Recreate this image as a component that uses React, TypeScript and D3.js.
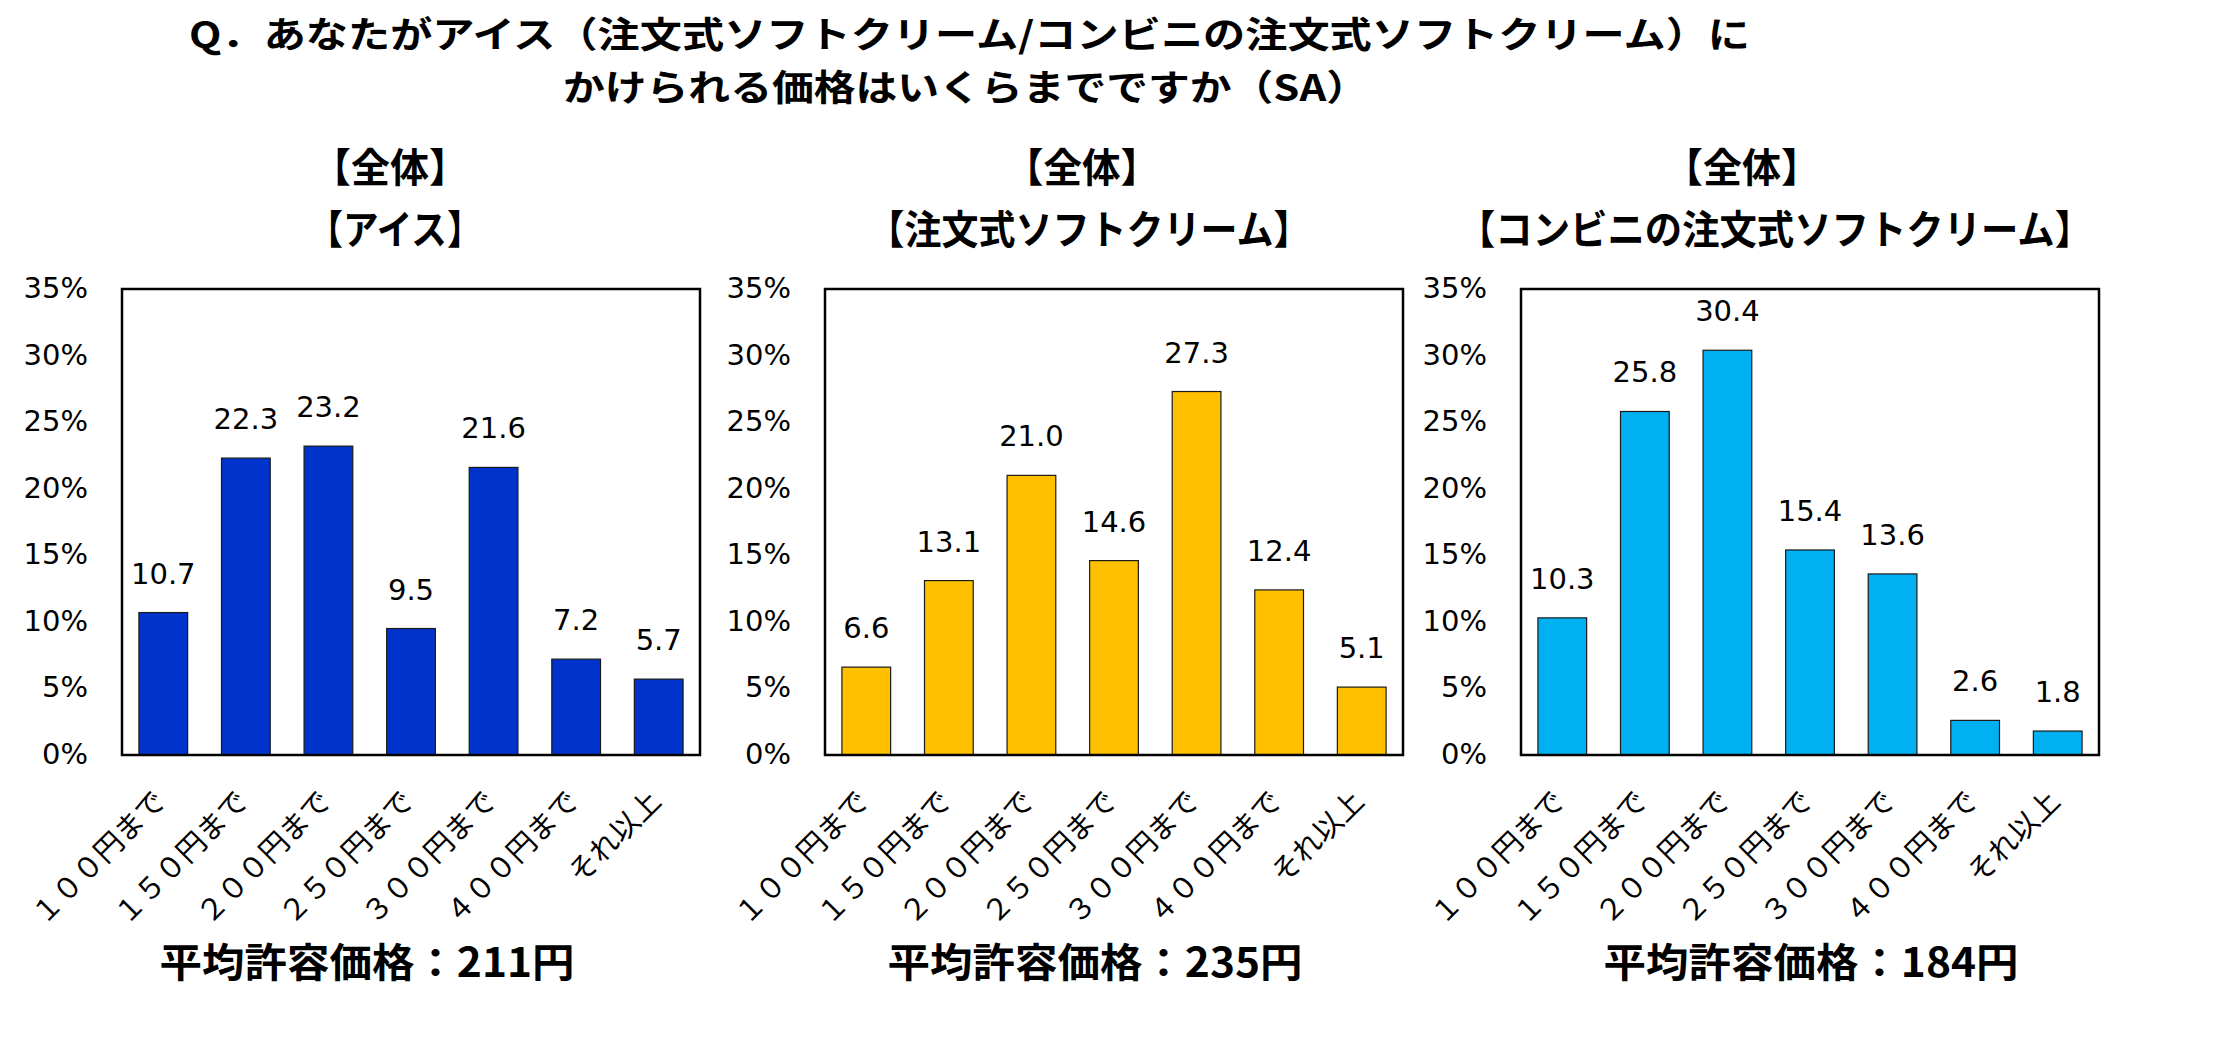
import React from "react";
import * as d3 from "d3";

const categories = ["１００円まで", "１５０円まで", "２００円まで", "２５０円まで", "３００円まで", "４００円まで", "それ以上"];
const iceValues = [10.7, 22.3, 23.2, 9.5, 21.6, 7.2, 5.7];
const softValues = [6.6, 13.1, 21.0, 14.6, 27.3, 12.4, 5.1];
const convValues = [10.3, 25.8, 30.4, 15.4, 13.6, 2.6, 1.8];
const yTicks = [0, 5, 10, 15, 20, 25, 30, 35];
const headLabels = ["【全体】", "【全体】", "【全体】"];
const subLabels = ["【アイス】", "【注文式ソフトクリーム】", "【コンビニの注文式ソフトクリーム】"];
const averagePrices = [211, 235, 184];
const titleLine1 = "Q．あなたがアイス（注文式ソフトクリーム/コンビニの注文式ソフトクリーム）に";
const titleLine2 = "かけられる価格はいくらまでですか（SA）";

const W = 2226;
const H = 1042;
const JP = "'Noto Sans CJK JP', 'Noto Sans', sans-serif";
const NUM = "'DejaVu Sans', Verdana, sans-serif";

const panels = [
  { values: iceValues, color: "#0033CC", left: 122, headX: 390, headW: 156, subX: 395, subW: 175, avgX: 367, avgW: 415 },
  { values: softValues, color: "#FFC000", left: 825, headX: 1082, headW: 154, subX: 1089, subW: 443, avgX: 1095, avgW: 415 },
  { values: convValues, color: "#00B0F0", left: 1521, headX: 1742, headW: 156, subX: 1775, subW: 634, avgX: 1811, avgW: 415 },
];

const plotW = 578;
const plotTop = 289;
const plotBottom = 755;

function Panel({ p, i }: { p: any; i: number }) {
  const x = d3
    .scaleBand<string>()
    .domain(categories)
    .range([p.left, p.left + plotW])
    .paddingInner(0.41)
    .paddingOuter(0.205);
  const y = d3.scaleLinear().domain([0, 35]).range([plotBottom, plotTop]);
  return (
    <g>
      <text x={p.headX} y={182} textAnchor="middle" fontFamily={JP} fontWeight={700} fontSize={40}
        textLength={p.headW} lengthAdjust="spacingAndGlyphs">{headLabels[i]}</text>
      <text x={p.subX} y={244} textAnchor="middle" fontFamily={JP} fontWeight={700} fontSize={40}
        textLength={p.subW} lengthAdjust="spacingAndGlyphs">{subLabels[i]}</text>
      {yTicks.map((t) => (
        <text key={t} x={p.left - 34} y={y(t) + 9} textAnchor="end" fontFamily={NUM} fontSize={29} fill="#000">
          {t}%
        </text>
      ))}
      {p.values.map((v: number, k: number) => {
        const c = categories[k];
        const bx = x(c)!;
        return (
          <g key={c}>
            <rect x={bx} y={y(v)} width={x.bandwidth()} height={plotBottom - y(v)} fill={p.color}
              stroke="#1a1a1a" strokeWidth={1.2} />
            <text x={bx + x.bandwidth() / 2} y={y(v) - 29} textAnchor="middle" fontFamily={NUM} fontSize={29}>
              {v.toFixed(1)}
            </text>
            <text transform={`translate(${bx + x.bandwidth() / 2 + 4},${plotBottom + 48}) rotate(-45)`}
              textAnchor="end" fontFamily={JP} fontSize={29}>
              {c}
            </text>
          </g>
        );
      })}
      <rect x={p.left} y={plotTop} width={plotW} height={plotBottom - plotTop} fill="none" stroke="#000" strokeWidth={2.5} />
      <text x={p.avgX} y={977} textAnchor="middle" fontFamily={JP} fontWeight={700} fontSize={40}
        textLength={p.avgW} lengthAdjust="spacingAndGlyphs">
        {`平均許容価格：${averagePrices[i]}円`}
      </text>
    </g>
  );
}

export default function App() {
  return (
    <svg width={W} height={H} style={{ position: "absolute", left: 0, top: 0, background: "#fff" }}>
      <rect x={0} y={0} width={W} height={H} fill="#fff" />
      <text x={969.5} y={48} textAnchor="middle" fontFamily={JP} fontWeight={700} fontSize={36}
        textLength={1561} lengthAdjust="spacingAndGlyphs">{titleLine1}</text>
      <text x={965.5} y={101} textAnchor="middle" fontFamily={JP} fontWeight={700} fontSize={36}
        textLength={805} lengthAdjust="spacingAndGlyphs">{titleLine2}</text>
      {panels.map((p, i) => (
        <Panel key={i} p={p} i={i} />
      ))}
    </svg>
  );
}
